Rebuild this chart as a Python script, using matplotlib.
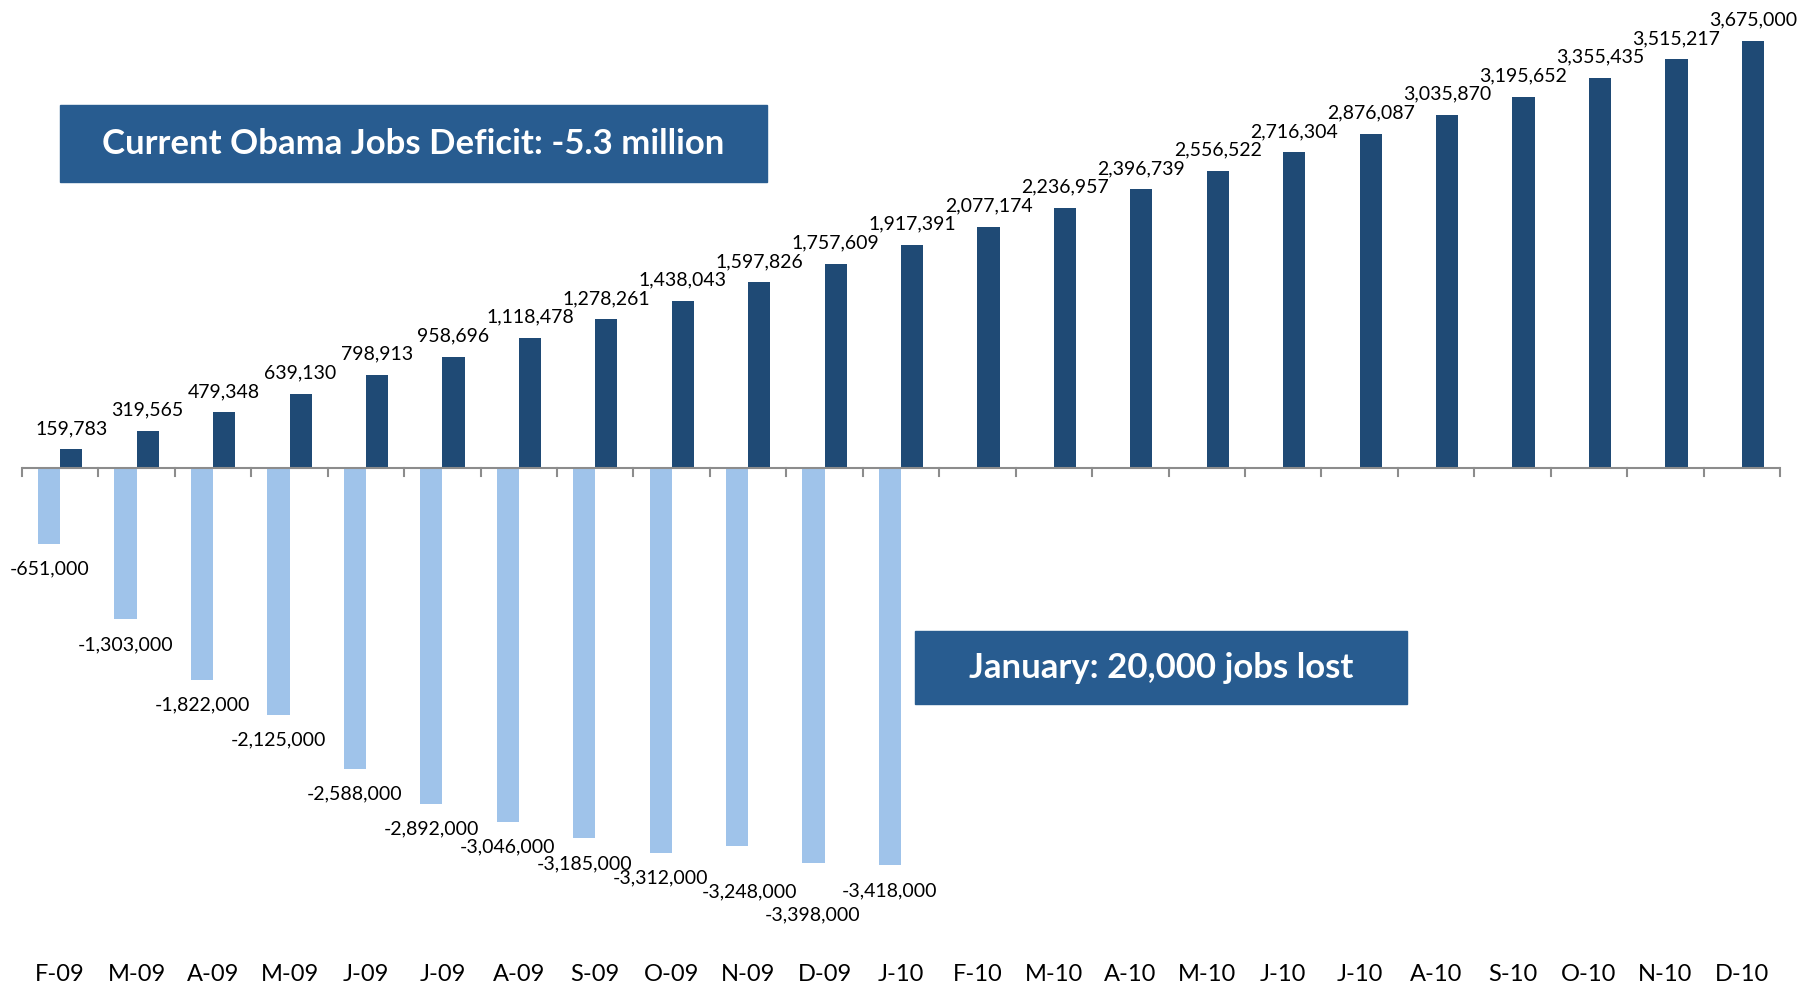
import numpy as np
import matplotlib
matplotlib.use('Agg')
import matplotlib.pyplot as plt
from matplotlib.patches import Rectangle

plt.rcParams['font.family'] = ['Lato', 'DejaVu Sans']

# Data
months = ['F-09', 'M-09', 'A-09', 'M-09', 'J-09', 'J-09', 'A-09', 'S-09', 'O-09', 'N-09', 'D-09', 'J-10',
          'F-10', 'M-10', 'A-10', 'M-10', 'J-10', 'J-10', 'A-10', 'S-10', 'O-10', 'N-10', 'D-10']
promised = [159783, 319565, 479348, 639130, 798913, 958696, 1118478, 1278261, 1438043, 1597826, 1757609,
            1917391, 2077174, 2236957, 2396739, 2556522, 2716304, 2876087, 3035870, 3195652, 3355435,
            3515217, 3675000]
lost = [-651000, -1303000, -1822000, -2125000, -2588000, -2892000, -3046000, -3185000, -3312000,
        -3248000, -3398000, -3418000]

dark = '#1f4a75'
light = '#9fc3ea'
box_col = '#285c90'

fig = plt.figure(figsize=(18.16, 9.89), dpi=100)
ax = fig.add_axes([22/1816, 1 - 933/989, (1780 - 22)/1816, 930/989])

x = np.arange(len(months))
xl = np.arange(len(lost))
w = 0.29
ax.bar(xl - w/2, lost, width=w, color=light, zorder=2)
ax.bar(x + w/2, promised, width=w, color=dark, zorder=2)

# data labels
for i, v in enumerate(promised):
    ax.annotate(f'{v:,}', (i + w/2, v), xytext=(0, 11), textcoords='offset points',
                ha='center', va='baseline', fontsize=14, color='black')

# manual nudges Excel applied to crowded labels (in points)
nudge = {9: (9, -15), 10: (-1, -19)}
for i, v in enumerate(lost):
    dx, dy = nudge.get(i, (0, 0))
    ax.annotate(f'{v:,}', (i - w/2, v), xytext=(dx, -12 + dy), textcoords='offset points',
                ha='center', va='top', fontsize=14, color='black')

ax.set_xlim(-0.5, len(months) - 0.5)
ax.set_ylim(-4000000, 4000000)

for s in ['top', 'right', 'left', 'bottom']:
    ax.spines[s].set_visible(False)
ax.axhline(0, color='#8c8c8c', lw=1.5, zorder=3)
ax.set_yticks([])

# category boundary ticks hanging from the zero line
for b in np.arange(-0.5, len(months), 1.0):
    ax.plot([b, b], [0, -70000], color='#8c8c8c', lw=1.5, zorder=3, clip_on=False)

ax.set_xticks(x)
ax.set_xticklabels(months, fontsize=17)
ax.tick_params(axis='x', length=0, pad=22)

# callout boxes
def callout(x0, y0, x1, y1, text, size):
    fig.patches.append(Rectangle((x0/1816, 1 - y1/989), (x1 - x0)/1816, (y1 - y0)/989,
                                 transform=fig.transFigure, color=box_col, zorder=5))
    fig.text((x0 + x1)/2/1816, 1 - (y0 + y1)/2/989, text, ha='center', va='center',
             color='white', fontsize=size, fontweight='bold', zorder=6)

callout(60, 105, 767, 182, 'Current Obama Jobs Deficit: -5.3 million', 25)
callout(915, 631, 1407, 704, 'January: 20,000 jobs lost', 25)

fig.savefig('out.png', dpi=100)
